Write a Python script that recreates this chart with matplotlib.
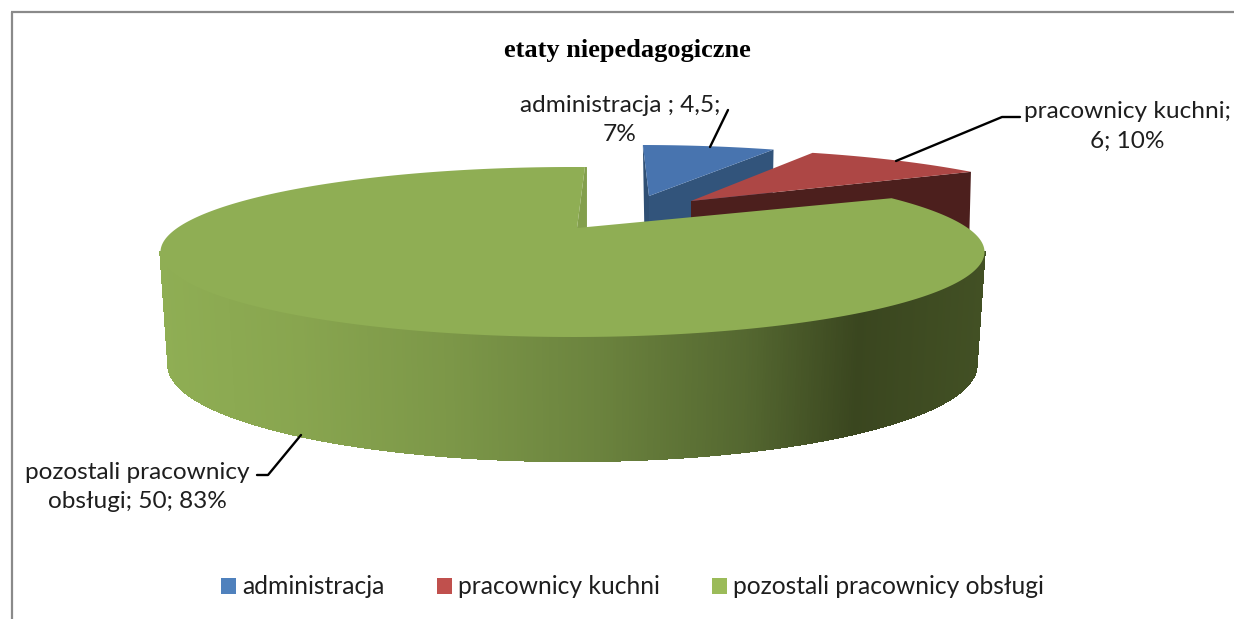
import numpy as np
import matplotlib
matplotlib.use("Agg")
import matplotlib.pyplot as plt
from matplotlib.patches import Polygon, Patch
from matplotlib.collections import PolyCollection, LineCollection

# ---- data ----
categories = ["administracja", "pracownicy kuchni", "pozostali pracownicy obsługi"]
values = [4.5, 6, 50]
slice_labels = ["administracja ; 4,5;\n7%", "pracownicy kuchni;\n6; 10%", "pozostali pracownicy\nobsługi; 50; 83%"]
title = "etaty niepedagogiczne"

# ---- styles ----
top_colors = ["#4874AF", "#AD4745", "#8FAE54"]
cut_colors = ["#32547B", "#4C1F1D", "#839F4C"]
legend_colors = ["#4F81BD", "#C0504D", "#9BBB59"]

# ---- projection of the exploded pie (pixel-space scale) ----
A, B = 412.0, 85.0
apexes = [(649, 196), (691, 201), (577, 228)]
centers = [(640, 230), (690, 234), (572.5, 252)]
squash = [0.18, 0.20, 0.184]
shear = [-0.0216, 0.0, 0.024]
DROP = 115
BOT = dict(cx=572.5, cy=365, a=404, b=96)

W, H = 1234, 619
fig = plt.figure(figsize=(W / 100, H / 100), dpi=100)
ax = fig.add_axes([0, 0, 1, 1])
ax.set_xlim(0, W)
ax.set_ylim(H, 0)
ax.axis("off")


def rim(theta, i):
    """Point where the ray at pie angle theta meets the slice's top ellipse."""
    ax0, ay0 = apexes[i]
    cx, cy = centers[i]
    k, s = squash[i], shear[i]
    dx = np.sin(theta) + s * np.cos(theta)
    dy = -k * np.cos(theta)
    px, py = ax0 - cx, ay0 - cy
    qa = (dx / A) ** 2 + (dy / B) ** 2
    qb = 2 * (px * dx / A**2 + py * dy / B**2)
    qc = (px / A) ** 2 + (py / B) ** 2 - 1
    t = (-qb + np.sqrt(qb**2 - 4 * qa * qc)) / (2 * qa)
    return np.array([ax0 + t * dx, ay0 + t * dy])


edges = np.radians(np.concatenate([[0], np.cumsum(values)]) / np.sum(values) * 360)

# blue
apex = np.array(apexes[0], float)
r0, r1 = rim(edges[0], 0), rim(edges[1], 0)
ax.add_patch(Polygon([r0, apex, apex + (0, DROP), r0 + (2, DROP)], fc="#2F4F74", ec="none", zorder=1))
ax.add_patch(Polygon([apex, r1, r1 + (-2, DROP), apex + (0, DROP)], fc=cut_colors[0], ec="none", zorder=1))
ths = np.linspace(edges[0], edges[1], 60)
ax.add_patch(Polygon([apex] + [rim(t, 0) for t in ths], fc=top_colors[0], ec="none", zorder=2))

# red
apex = np.array(apexes[1], float)
r1 = rim(edges[2], 1)
ax.add_patch(Polygon([apex, r1, r1 + (-3, DROP), apex + (0, DROP)], fc=cut_colors[1], ec="none", zorder=3))
ths = np.linspace(edges[1], edges[2], 60)
ax.add_patch(Polygon([apex] + [rim(t, 1) for t in ths], fc=top_colors[1], ec="none", zorder=4))

# green: cut face, outer wall, top
apex = np.array(apexes[2], float)
r0 = rim(edges[3], 2)
ax.add_patch(Polygon([r0, r0 + (2, 0), r0 + (2, DROP), apex + (10, DROP), apex],
                     fc=cut_colors[2], ec="none", zorder=5))
cx, cy = centers[2]
phis = np.linspace(np.pi, 0, 401)
xt, yt = cx + A * np.cos(phis), cy + B * np.sin(phis)
xb, yb = BOT["cx"] + BOT["a"] * np.cos(phis), BOT["cy"] + BOT["b"] * np.sin(phis)
stops_x = [160, 300, 450, 600, 750, 860, 985]
stops_rgb = np.array([[143, 174, 84], [136, 165, 79], [124, 151, 72],
                      [107, 131, 62], [84, 103, 48], [58, 70, 31], [66, 80, 36]]) / 255
quads, cols, segs = [], [], []
for j in range(len(phis) - 1):
    quads.append([(xt[j], yt[j]), (xt[j + 1], yt[j + 1]), (xb[j + 1], yb[j + 1]), (xb[j], yb[j])])
    segs.append([(xb[j], yb[j]), (xb[j + 1], yb[j + 1])])
    xm = (xt[j] + xt[j + 1]) / 2
    cols.append([np.interp(xm, stops_x, stops_rgb[:, c]) for c in range(3)])
ax.add_collection(PolyCollection(quads, facecolors=cols, edgecolors=cols, linewidths=1.0,
                                 antialiaseds=False, zorder=6))
ax.add_collection(LineCollection(segs, colors=cols, linewidths=1.0, zorder=6))
ax.add_patch(Polygon([(xt[-1], yt[-1]), (xb[-1], yb[-1])], closed=False, fill=False,
                     ec=cols[-1], lw=1.0, zorder=6))
ax.add_patch(Polygon([(xt[0], yt[0]), (xb[0], yb[0])], closed=False, fill=False,
                     ec=cols[0], lw=1.0, zorder=6))
ths = np.linspace(edges[2], edges[3], 400)
ax.add_patch(Polygon([apex] + [rim(t, 2) for t in ths], fc=top_colors[2], ec="none", zorder=7))

# frame
ax.plot([12, 12], [H, 12], color="#8A8A8A", lw=1.6, solid_capstyle="butt", zorder=0)
ax.plot([11.4, W], [12, 12], color="#8A8A8A", lw=1.6, solid_capstyle="butt", zorder=0)

# title
ax.text(627.5, 50, title, family="Liberation Serif", weight="bold", fontsize=19,
        ha="center", va="center", color="black", zorder=10)

# data labels and leader lines
lab_font = dict(family="Lato", fontsize=17.6, color="#1E1E1E", ha="center", va="center", linespacing=1.5, zorder=10)
ax.text(620, 120, slice_labels[0], **lab_font)
ax.text(1127, 126.5, slice_labels[1], **lab_font)
ax.text(137, 487, slice_labels[2], **lab_font)
lkw = dict(color="black", lw=1.7, zorder=9, solid_capstyle="round", solid_joinstyle="round")
ax.plot([728, 710], [110, 147], **lkw)
ax.plot([1020, 1002, 896], [117, 117, 161], **lkw)
ax.plot([257, 268, 301], [475, 475, 435], **lkw)

# legend
handles = [Patch(facecolor=c, edgecolor="none", label=n) for c, n in zip(legend_colors, categories)]
leg = ax.legend(handles=handles, ncol=3, frameon=False, loc="center",
                bbox_to_anchor=(632.5, 587), bbox_transform=ax.transData,
                prop={"family": "Lato", "size": 17.7}, handlelength=0.62, handleheight=0.6,
                handletextpad=0.25, columnspacing=2.1, labelcolor="#1E1E1E")

fig.savefig("out.png", dpi=100, facecolor="white")
